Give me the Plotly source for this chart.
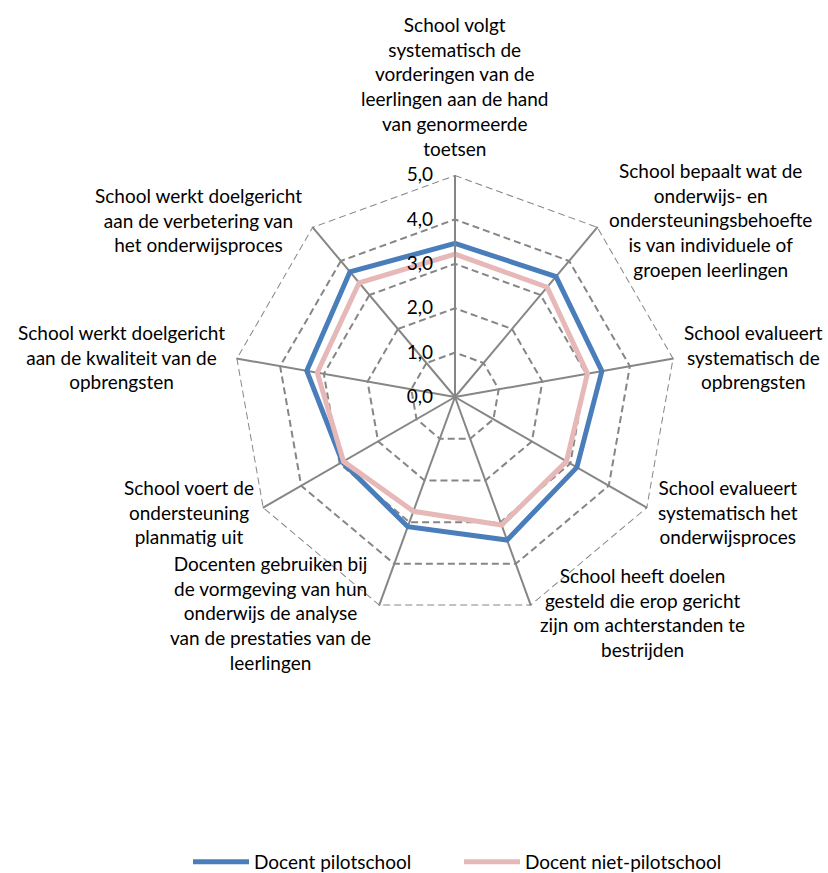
import plotly.graph_objects as go

categories = [
    "School volgt<br>systematisch de<br>vorderingen van de<br>leerlingen aan de hand<br>van genormeerde<br>toetsen",
    "School bepaalt wat de<br>onderwijs- en<br>ondersteuningsbehoefte<br>is van individuele of<br>groepen leerlingen",
    "School evalueert<br>systematisch de<br>opbrengsten",
    "School evalueert<br>systematisch het<br>onderwijsproces",
    "School heeft doelen<br>gesteld die erop gericht<br>zijn om achterstanden te<br>bestrijden",
    "Docenten gebruiken bij<br>de vormgeving van hun<br>onderwijs de analyse<br>van de prestaties van de<br>leerlingen",
    "School voert de<br>ondersteuning<br>planmatig uit",
    "School werkt doelgericht<br>aan de kwaliteit van de<br>opbrengsten",
    "School werkt doelgericht<br>aan de verbetering van<br>het onderwijsproces",
]
pilot = [3.46, 3.54, 3.36, 3.17, 3.43, 3.11, 2.93, 3.39, 3.68]
niet_pilot = [3.22, 3.23, 3.03, 2.90, 3.07, 2.74, 2.90, 3.15, 3.36]
series_names = ["Docent pilotschool", "Docent niet-pilotschool"]
radial_ticks = [0, 1, 2, 3, 4, 5]
radial_ticktext = ["0,0", "1,0", "2,0", "3,0", "4,0", "5,0"]

# layout: pixel centres of the category label blocks (Excel-style placement)
W, H = 828, 873
label_centres_px = [(455, 87), (710, 220), (753, 357), (728, 512), (642, 612),
                    (270, 613), (189, 512), (121, 357), (198, 220)]

FONT = "Lato, 'Open Sans', sans-serif"
GRID = "#868686"
DASH = "7px,4px"

fig = go.Figure()
# outer dashed gridline ring at the axis maximum
outer = [radial_ticks[-1]] * len(categories)
fig.add_trace(go.Scatterpolar(
    r=outer + outer[:1], theta=categories + categories[:1], mode="lines",
    line=dict(color=GRID, width=2, dash=DASH), showlegend=False, hoverinfo="skip"))
fig.add_trace(go.Scatterpolar(
    r=pilot + pilot[:1], theta=categories + categories[:1], mode="lines",
    name=series_names[0], line=dict(color="#4A7EBB", width=5)))
fig.add_trace(go.Scatterpolar(
    r=niet_pilot + niet_pilot[:1], theta=categories + categories[:1], mode="lines",
    name=series_names[1], line=dict(color="#E6B9B8", width=5)))

annotations = []
for text, (px, py) in zip(categories, label_centres_px):
    annotations.append(dict(
        text=text, x=px / W, y=1 - py / H, xref="paper", yref="paper",
        xanchor="center", yanchor="middle", align="center", showarrow=False,
        font=dict(family=FONT, size=19, color="black")))

NB = "\u00a0"
fig.update_layout(
    width=W, height=H,
    margin=dict(l=0, r=0, t=0, b=0, autoexpand=False),
    paper_bgcolor="white", plot_bgcolor="white",
    font=dict(family=FONT, size=19, color="black"),
    annotations=annotations,
    polar=dict(
        domain=dict(x=[0.2814, 0.8176], y=[0.291, 0.7995]),
        bgcolor="white",
        gridshape="linear",
        radialaxis=dict(
            range=[0, 5], tickvals=radial_ticks,
            ticktext=[t + NB * 3 for t in radial_ticktext],
            angle=90, tickangle=90, side="counterclockwise",
            showline=True, linecolor=GRID, linewidth=1.5,
            gridcolor=GRID, griddash=DASH, gridwidth=1.5,
            ticks="", tickfont=dict(family=FONT, size=19, color="black"),
        ),
        angularaxis=dict(
            type="category", categoryorder="array", categoryarray=categories,
            rotation=90, direction="clockwise",
            showline=False, gridcolor=GRID, gridwidth=1.5,
            ticks="", showticklabels=False,
        ),
    ),
    legend=dict(orientation="h", x=188 / W, xanchor="left", y=1 - 862 / H, yanchor="middle",
                font=dict(family=FONT, size=19, color="black"), itemwidth=56,
                entrywidth=200, entrywidthmode="pixels"),
)
fig.write_html("out.html")
